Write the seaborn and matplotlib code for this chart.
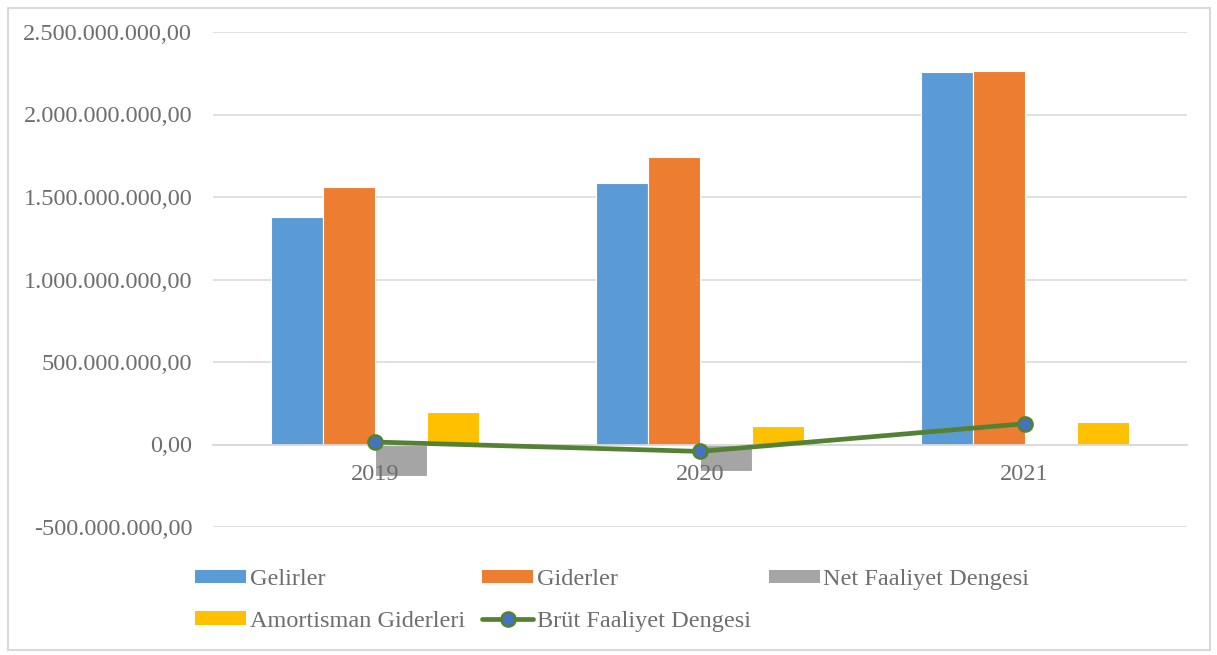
import numpy as np
import pandas as pd
import matplotlib
matplotlib.use("Agg")
import matplotlib.pyplot as plt
import seaborn as sns
from matplotlib.patches import Patch, Rectangle
from matplotlib.lines import Line2D
from matplotlib.ticker import FuncFormatter, MultipleLocator

# values (TL)
years = ["2019", "2020", "2021"]
gelirler = [1377e6, 1584e6, 2257e6]
giderler = [1559e6, 1742e6, 2263e6]
net_faaliyet = [-188e6, -158e6, -6e6]
amortisman = [200e6, 115e6, 134e6]
brut_faaliyet = [15e6, -42e6, 126e6]

bar_series = ["Gelirler", "Giderler", "Net Faaliyet Dengesi", "Amortisman Giderleri"]
bar_colors = ["#5b9bd5", "#ed7d31", "#a5a5a5", "#ffc000"]
line_name = "Brüt Faaliyet Dengesi"

df = pd.DataFrame({
    "year": years * 4,
    "series": np.repeat(bar_series, len(years)),
    "value": gelirler + giderler + net_faaliyet + amortisman,
})

sns.set_style("white")
plt.rcParams['font.family'] = ['Liberation Serif', 'DejaVu Serif']
text_color = "#6e6e6e"
fs = 17.5

fig = plt.figure(figsize=(12.17, 6.55), dpi=100)
ax = fig.add_axes([213 / 1217, 1 - 527 / 655, 974 / 1217, 495 / 655])

sns.barplot(data=df, x="year", y="value", hue="series", hue_order=bar_series,
            palette=bar_colors, width=0.64, edgecolor="white", linewidth=0.8,
            saturation=1, ax=ax, legend=False)

ax.plot(range(len(years)), brut_faaliyet, color="#548235", linewidth=3.4,
        marker="o", markersize=10, markerfacecolor="#4472c4",
        markeredgecolor="#548235", markeredgewidth=2, zorder=5)

ax.set_xlim(-0.5, len(years) - 0.5)
ax.set_ylim(-500e6, 2500e6)
ax.yaxis.set_major_locator(MultipleLocator(500e6))

def tr_format(v, pos):
    s = f"{v:,.2f}"
    return s.replace(",", "X").replace(".", ",").replace("X", ".")

ax.yaxis.set_major_formatter(FuncFormatter(tr_format))
ax.grid(axis="y", color="#d9d9d9", linewidth=1.1)
ax.set_axisbelow(True)
ax.xaxis.set_zorder(10)  # year labels sit over the negative bars
for side in ["top", "right", "left"]:
    ax.spines[side].set_visible(False)
ax.spines["bottom"].set_position(("data", 0))
ax.spines["bottom"].set_color("#d9d9d9")
ax.spines["bottom"].set_linewidth(1.3)
ax.spines["bottom"].set_zorder(1)
ax.tick_params(axis="x", length=0, pad=14, labelsize=fs, labelcolor=text_color)
ax.tick_params(axis="y", length=0, pad=15, labelsize=fs, labelcolor=text_color)
ax.set_xlabel("")
ax.set_ylabel("")

handles = [Patch(facecolor=c, edgecolor="none") for c in bar_colors]
handles.insert(4, Line2D([], [], color="#548235", linewidth=3.4, marker="o",
                         markersize=10, markerfacecolor="#4472c4",
                         markeredgecolor="#548235", markeredgewidth=2))
labels = bar_series + [line_name]
# order so that ncol=3 fills rows like the original
order = [0, 3, 1, 4, 2]
leg = fig.legend([handles[i] for i in order], [labels[i] for i in order],
                 ncol=3, loc="upper left", bbox_to_anchor=(195 / 1217, 1 - 569 / 655),
                 frameon=False, fontsize=fs, handlelength=2.1, handleheight=0.45,
                 handletextpad=0.15, columnspacing=0.72, labelspacing=0.85,
                 borderpad=0, borderaxespad=0, numpoints=1)
for t in leg.get_texts():
    t.set_color(text_color)

fig.patches.append(Rectangle((8 / 1217, 5 / 655), 1202 / 1217, 642 / 655,
                             transform=fig.transFigure, fill=False,
                             edgecolor="#d9d9d9", linewidth=1.5))

fig.savefig("out.png", dpi=100)
